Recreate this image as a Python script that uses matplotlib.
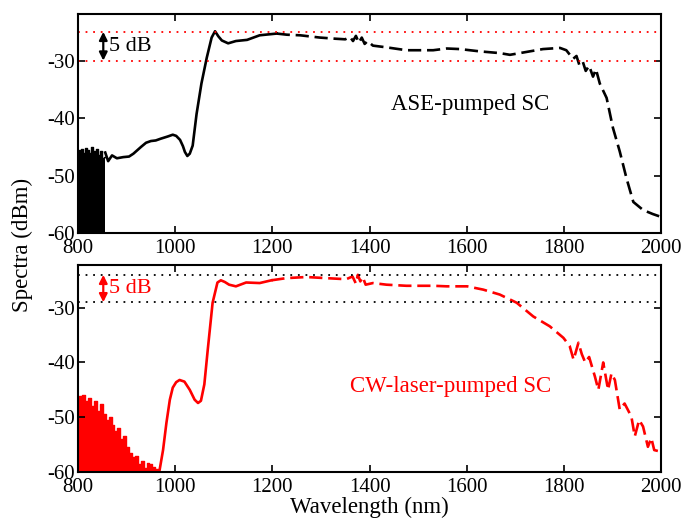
import matplotlib
matplotlib.use("Agg")
import matplotlib.pyplot as plt
import numpy as np

plt.rcParams['font.family'] = ['Liberation Serif', 'DejaVu Serif']
plt.rcParams['axes.unicode_minus'] = False

# ASE-pumped SC (top)
ase_floor_wl = [800, 804, 808, 812, 816, 820, 824, 828, 832, 836, 840, 844, 848, 852, 856]
ase_floor_top = [-46.5, -45.5, -45.3, -46.0, -45.2, -45.5, -46.0, -45.0, -45.8, -46.2, -45.3,
                 -46.5, -45.8, -47.0, -46.8]
ase_wl = [856, 862, 870, 880, 893, 905, 914, 922, 930, 940, 950, 960, 970, 985, 995, 1002,
          1010, 1016, 1020, 1025, 1030, 1036, 1044, 1054, 1065, 1075, 1082, 1089, 1096, 1109,
          1125, 1148, 1174, 1209, 1230, 1257, 1298, 1330, 1350, 1360, 1366, 1372, 1378, 1384,
          1390, 1396, 1407, 1435, 1476, 1504, 1531, 1559, 1586, 1627, 1668, 1689, 1723, 1757,
          1792, 1805, 1819, 1826, 1832, 1839, 1845, 1852, 1860, 1866, 1874, 1888, 1901, 1915,
          1929, 1943, 1963, 1983, 2000]
ase_dbm = [-46.0, -47.5, -46.5, -47.0, -46.8, -46.7, -46.2, -45.6, -45.0, -44.3, -44.0, -43.9,
           -43.6, -43.2, -42.9, -43.1, -43.8, -44.9, -45.9, -46.6, -46.2, -44.8, -39.3, -34.0,
           -29.5, -26.0, -24.9, -25.8, -26.5, -27.0, -26.6, -26.4, -25.6, -25.3, -25.5, -25.6,
           -26.0, -26.2, -26.3, -25.9, -26.6, -25.7, -26.9, -26.0, -27.1, -26.6, -27.4, -27.7,
           -28.2, -28.2, -28.2, -27.9, -28.0, -28.4, -28.7, -29.0, -28.5, -28.0, -27.8, -28.2,
           -29.7, -29.2, -30.8, -30.2, -31.8, -30.9, -32.8, -31.5, -34.0, -36.5, -41.7, -45.8,
           -50.5, -54.6, -56.0, -56.7, -57.2]
ase_ref = [-25, -30]

# CW-laser-pumped SC (bottom)
cw_floor_wl = [800, 806, 812, 818, 824, 830, 836, 842, 848, 854, 860, 866, 872, 878, 884, 890,
               896, 902, 908, 914, 920, 926, 932, 938, 944, 950, 956, 962, 968]
cw_floor_top = [-48.5, -46.2, -46.0, -47.0, -46.5, -48.0, -47.0, -48.8, -47.6, -49.5, -50.5,
                -50.0, -51.5, -52.5, -52.0, -54.0, -53.5, -55.5, -56.5, -57.3, -57.0, -58.5,
                -58.0, -59.3, -58.3, -58.5, -59.0, -59.5, -60.0]
cw_wl = [968, 975, 982, 989, 995, 1002, 1009, 1019, 1030, 1040, 1047, 1053, 1060, 1067, 1077,
         1087, 1094, 1102, 1111, 1125, 1146, 1174, 1198, 1229, 1270, 1310, 1352, 1365, 1372,
         1376, 1381, 1386, 1392, 1407, 1435, 1476, 1531, 1559, 1601, 1634, 1668, 1703, 1737,
         1771, 1799, 1812, 1820, 1830, 1837, 1844, 1852, 1864, 1871, 1881, 1891, 1898, 1905,
         1915, 1925, 1939, 1946, 1955, 1963, 1973, 1980, 1986, 2000]
cw_dbm = [-59.6, -56.0, -51.0, -46.8, -44.6, -43.6, -43.2, -43.5, -45.0, -46.8, -47.4, -47.0,
          -44.0, -37.7, -29.1, -25.4, -25.0, -25.3, -25.8, -26.1, -25.4, -25.5, -25.0, -24.6,
          -24.4, -24.6, -24.8, -24.3, -25.6, -24.0, -25.2, -24.4, -25.8, -25.5, -25.8, -26.0,
          -26.0, -26.1, -26.1, -26.7, -27.6, -29.1, -31.6, -33.4, -35.5, -37.0, -39.5, -36.4,
          -38.5, -40.0, -39.0, -42.6, -45.0, -40.0, -45.0, -42.0, -43.2, -48.6, -47.5, -49.9,
          -53.5, -50.5, -51.7, -55.4, -53.8, -56.0, -56.3]
cw_ref = [-24, -29]

fig = plt.figure(figsize=(6.85, 5.27), dpi=100)
ax1 = fig.add_axes([0.1139, 0.5579, 0.8511, 0.4155])
ax2 = fig.add_axes([0.1139, 0.1044, 0.8511, 0.3928])


def draw(ax, fwl, ftop, wl, db, ref, color, label, lpos, ylim_top):
    ax.fill_between(fwl, ftop, -60, step='mid', color=color, lw=0)
    ax.step(fwl, ftop, where='mid', color=color, lw=1.0)
    wl = np.array(wl)
    db = np.array(db)
    solid = wl <= 1215
    ax.plot(wl[solid], db[solid], color=color, lw=1.9)
    k = np.argmax(~solid) - 1
    ax.plot(wl[k:], db[k:], color=color, lw=1.9, linestyle=(0, (5, 2.2)))
    dot_col = 'red' if color == 'black' else 'black'
    for r in ref:
        ax.axhline(r, color=dot_col, lw=1.3, linestyle=(0, (1, 3.2)))
    ax.annotate('', xy=(852, ref[1]), xytext=(852, ref[0]),
                arrowprops=dict(arrowstyle='<|-|>', color=color, lw=1.6,
                                mutation_scale=12, shrinkA=0, shrinkB=0))
    ax.text(864, (ref[0] + ref[1]) / 2, '5 dB', color=color, fontsize=16,
            va='center', ha='left')
    ax.text(lpos[0], lpos[1], label, color=color, fontsize=16.5, va='center', ha='left')
    ax.set_xlim(800, 2000)
    ax.set_ylim(-60, ylim_top)
    ax.set_xticks(range(800, 2001, 200))
    ax.set_yticks([-60, -50, -40, -30])
    ax.tick_params(direction='in', top=True, right=True, length=5, width=1.2,
                   labelsize=15)
    ax.tick_params(axis='x', pad=4.5)
    ax.tick_params(axis='y', pad=2)
    for s in ax.spines.values():
        s.set_linewidth(1.5)


draw(ax1, ase_floor_wl, ase_floor_top, ase_wl, ase_dbm, ase_ref, 'black',
     'ASE-pumped SC', (1445, -37.6), -21.9)
draw(ax2, cw_floor_wl, cw_floor_top, cw_wl, cw_dbm, cw_ref, 'red',
     'CW-laser-pumped SC', (1360, -44.4), -22.2)

ax2.set_xlabel('Wavelength (nm)', fontsize=16.5, labelpad=0)
fig.text(0.032, 0.535, 'Spectra (dBm)', rotation=90, fontsize=16.5, va='center', ha='center')

fig.savefig('out.png', dpi=100)
